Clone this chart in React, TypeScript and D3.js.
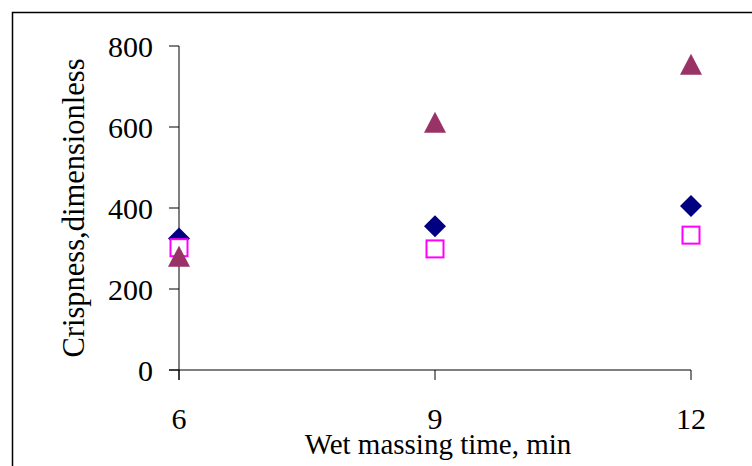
import React from "react";
import * as d3 from "d3";

const times = [6, 9, 12];
const seriesDiamond = [325, 355, 405];
const seriesSquare = [302, 299, 333];
const seriesTriangle = [281, 612, 755];
const yTicks = [0, 200, 400, 600, 800];
const xTicks = [6, 9, 12];

const W = 752;
const H = 466;
const FONT = "'Liberation Serif', 'Times New Roman', serif";

export default function App() {
  const x = d3.scaleLinear().domain([6, 12]).range([179, 691]);
  const y = d3.scaleLinear().domain([0, 800]).range([370, 46]);
  const x0 = x(6);
  const y0 = y(0);
  const tri = d3.symbol().type(d3.symbolTriangle).size(220)();
  return (
    <svg
      width={W}
      height={H}
      style={{ position: "absolute", left: 0, top: 0, background: "#fff" }}
    >
      <rect x={0} y={0} width={W} height={H} fill="#fff" />
      <rect
        x={12.5}
        y={12.5}
        width={W + 20}
        height={H + 20}
        fill="none"
        stroke="#000"
        strokeWidth={1.5}
      />
      {/* axes */}
      <line x1={x0} x2={x0} y1={y(800)} y2={y0 + 10} stroke="#000" strokeWidth={1} />
      <line x1={x0 - 10} x2={x(12)} y1={y0} y2={y0} stroke="#000" strokeWidth={1} />
      {yTicks.map((t) => (
        <g key={"y" + t}>
          <line x1={x0 - 10} x2={x0} y1={y(t)} y2={y(t)} stroke="#000" />
          <text
            x={153}
            y={y(t) + 10.5}
            textAnchor="end"
            fontFamily={FONT}
            fontSize={30}
            fill="#000"
          >
            {t}
          </text>
        </g>
      ))}
      {xTicks.map((t) => (
        <g key={"x" + t}>
          <line x1={x(t)} x2={x(t)} y1={y0} y2={y0 + 10} stroke="#000" />
          <text
            x={x(t)}
            y={429}
            textAnchor="middle"
            fontFamily={FONT}
            fontSize={30}
            fill="#000"
          >
            {t}
          </text>
        </g>
      ))}
      <text
        x={438}
        y={454}
        textAnchor="middle"
        fontFamily={FONT}
        fontSize={29}
        fill="#000"
      >
        Wet massing time, min
      </text>
      <text
        transform={`translate(84,208) rotate(-90)`}
        textAnchor="middle"
        fontFamily={FONT}
        fontSize={30.5}
        fill="#000"
      >
        Crispness,dimensionless
      </text>
      {/* diamonds */}
      {times.map((t, i) => (
        <path
          key={"d" + i}
          d={`M${x(t)},${y(seriesDiamond[i]) - 11}l11,11l-11,11l-11,-11z`}
          fill="#000080"
        />
      ))}
      {/* squares */}
      {times.map((t, i) => (
        <rect
          key={"s" + i}
          x={x(t) - 8.5}
          y={y(seriesSquare[i]) - 8.5}
          width={17}
          height={17}
          fill="#fff"
          stroke="#FF00FF"
          strokeWidth={2}
        />
      ))}
      {/* triangles */}
      {times.map((t, i) => (
        <path
          key={"t" + i}
          d={`M${x(t)},${y(seriesTriangle[i]) - 10.5}l11,21l-22,0z`}
          fill="#993366"
        />
      ))}
    </svg>
  );
}
